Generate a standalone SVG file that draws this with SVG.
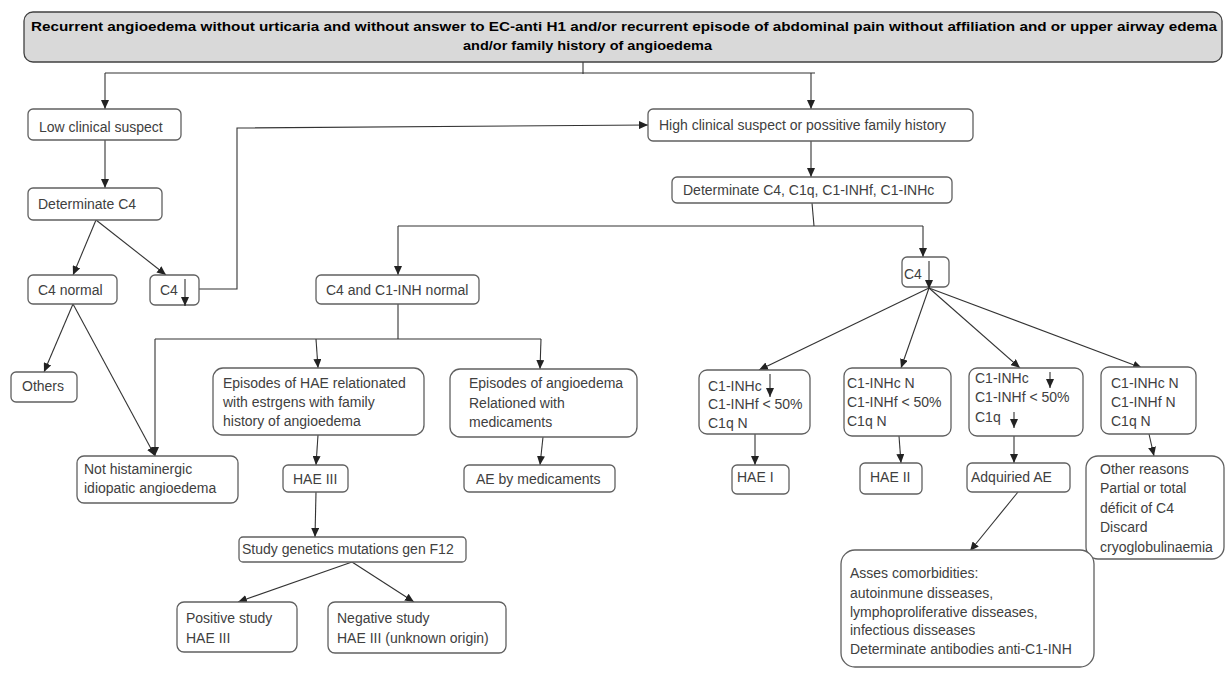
<svg xmlns="http://www.w3.org/2000/svg" width="1225" height="682" viewBox="0 0 1225 682">
<style>
.box{fill:#fff;stroke:#606060;stroke-width:1.3}
.hdr{fill:#d9d9d9;stroke:#404040;stroke-width:1.3}
.t{font-family:"Liberation Sans",Arial,sans-serif;font-size:14px;fill:#404040}
.h{font-family:"Liberation Sans",Arial,sans-serif;font-size:13px;font-weight:bold;fill:#000}
.c{stroke:#333;stroke-width:1.1;fill:none}
</style>
<defs>
<marker id="a" markerUnits="userSpaceOnUse" markerWidth="9" markerHeight="8" refX="9" refY="4" orient="auto">
<path d="M0,0 L9,4 L0,8 z" fill="#222"/>
</marker>
</defs>
<rect width="1225" height="682" fill="#fff"/>

<g id="connectors">
<polyline class="c" points="583,62 583,74"/>
<polyline class="c" points="105,73 815,73"/>
<line class="c" x1="105" y1="73" x2="105" y2="109" marker-end="url(#a)"/>
<line class="c" x1="811" y1="73" x2="811" y2="109" marker-end="url(#a)"/>
<line class="c" x1="105" y1="140" x2="105" y2="188" marker-end="url(#a)"/>
<line class="c" x1="96" y1="220" x2="73" y2="275" marker-end="url(#a)"/>
<line class="c" x1="96" y1="220" x2="166" y2="275" marker-end="url(#a)"/>
<polyline class="c" points="199,289 237,289 237,128 648,125" marker-end="url(#a)"/>
<line class="c" x1="811" y1="141" x2="811" y2="177" marker-end="url(#a)"/>
<polyline class="c" points="812,203 814,226"/>
<polyline class="c" points="398,226 923,226"/>
<line class="c" x1="398" y1="226" x2="398" y2="275" marker-end="url(#a)"/>
<line class="c" x1="923" y1="226" x2="923" y2="257" marker-end="url(#a)"/>
<line class="c" x1="73" y1="304" x2="44" y2="372" marker-end="url(#a)"/>
<line class="c" x1="73" y1="304" x2="155" y2="456" marker-end="url(#a)"/>
<polyline class="c" points="398,304 398,339"/>
<polyline class="c" points="155,339 541,339"/>
<line class="c" x1="155" y1="339" x2="155" y2="456" marker-end="url(#a)"/>
<line class="c" x1="316" y1="339" x2="318" y2="368" marker-end="url(#a)"/>
<line class="c" x1="541" y1="339" x2="540" y2="369" marker-end="url(#a)"/>
<line class="c" x1="318" y1="435" x2="316" y2="465" marker-end="url(#a)"/>
<line class="c" x1="543" y1="437" x2="540" y2="465" marker-end="url(#a)"/>
<line class="c" x1="316" y1="492" x2="315" y2="537" marker-end="url(#a)"/>
<line class="c" x1="352" y1="562" x2="238" y2="602" marker-end="url(#a)"/>
<line class="c" x1="352" y1="562" x2="414" y2="602" marker-end="url(#a)"/>
<line class="c" x1="929" y1="288" x2="759" y2="370" marker-end="url(#a)"/>
<line class="c" x1="929" y1="288" x2="901" y2="368" marker-end="url(#a)"/>
<line class="c" x1="929" y1="288" x2="1020" y2="368" marker-end="url(#a)"/>
<line class="c" x1="929" y1="288" x2="1142" y2="368" marker-end="url(#a)"/>
<line class="c" x1="755" y1="434" x2="755" y2="465" marker-end="url(#a)"/>
<line class="c" x1="899" y1="436" x2="901" y2="463" marker-end="url(#a)"/>
<line class="c" x1="1014" y1="436" x2="1014" y2="463" marker-end="url(#a)"/>
<line class="c" x1="1149" y1="434" x2="1154" y2="456" marker-end="url(#a)"/>
<line class="c" x1="1018" y1="492" x2="970" y2="551" marker-end="url(#a)"/>
</g>

<g id="header">
<rect class="hdr" x="24" y="12" width="1198" height="50" rx="9"/>
<text class="h" x="624" y="31" text-anchor="middle" textLength="1186" lengthAdjust="spacingAndGlyphs">Recurrent angioedema without urticaria and without answer to EC-anti H1 and/or recurrent episode of abdominal pain without affiliation and or upper airway edema</text>
<text class="h" x="463" y="50" textLength="249" lengthAdjust="spacingAndGlyphs">and/or family history of angioedema</text>
</g>

<g id="low">
<rect class="box" x="28" y="109" width="153" height="31" rx="5"/>
<text class="t" x="39" y="132">Low clinical suspect</text>
</g>
<g id="detC4">
<rect class="box" x="28" y="188" width="134" height="32" rx="5"/>
<text class="t" x="38" y="209">Determinate C4</text>
</g>
<g id="c4normal">
<rect class="box" x="28" y="275" width="89" height="29" rx="5"/>
<text class="t" x="38" y="295">C4 normal</text>
</g>
<g id="c4low">
<rect class="box" x="150" y="275" width="49" height="30" rx="5"/>
<text class="t" x="160" y="295">C4</text>
<line class="c" x1="185" y1="279" x2="185" y2="306" marker-end="url(#a)"/>
</g>
<g id="others">
<rect class="box" x="11" y="372" width="66" height="30" rx="5"/>
<text class="t" x="22" y="391">Others</text>
</g>
<g id="nothist">
<rect class="box" x="77" y="456" width="161" height="47" rx="7"/>
<text class="t" x="84" y="474">Not histaminergic</text>
<text class="t" x="84" y="493">idiopatic angioedema</text>
</g>
<g id="high">
<rect class="box" x="648" y="109" width="325" height="32" rx="5"/>
<text class="t" x="659" y="130">High clinical suspect or possitive family history</text>
</g>
<g id="det2">
<rect class="box" x="672" y="177" width="280" height="26" rx="5"/>
<text class="t" x="683" y="195">Determinate C4, C1q, C1-INHf, C1-INHc</text>
</g>
<g id="c4c1normal">
<rect class="box" x="316" y="275" width="163" height="29" rx="5"/>
<text class="t" x="326" y="295">C4 and C1-INH normal</text>
</g>
<g id="c4low2">
<rect class="box" x="902" y="257" width="47" height="30" rx="5"/>
<text class="t" x="904" y="279">C4</text>
<line class="c" x1="929" y1="261" x2="929" y2="289" marker-end="url(#a)"/>
</g>
<g id="epiHAE">
<rect class="box" x="213" y="368" width="211" height="67" rx="10"/>
<text class="t" x="223" y="388">Episodes of HAE relationated</text>
<text class="t" x="223" y="407">with estrgens with family</text>
<text class="t" x="223" y="426">history of angioedema</text>
</g>
<g id="epiAE">
<rect class="box" x="450" y="369" width="187" height="68" rx="10"/>
<text class="t" x="469" y="388">Episodes of angioedema</text>
<text class="t" x="469" y="408">Relationed with</text>
<text class="t" x="469" y="427">medicaments</text>
</g>
<g id="hae3">
<rect class="box" x="283" y="465" width="65" height="27" rx="5"/>
<text class="t" x="293" y="484">HAE III</text>
</g>
<g id="aemed">
<rect class="box" x="464" y="465" width="151" height="27" rx="5"/>
<text class="t" x="476" y="484">AE by medicaments</text>
</g>
<g id="study">
<rect class="box" x="239" y="537" width="227" height="25" rx="4"/>
<text class="t" x="242" y="554">Study genetics mutations gen F12</text>
</g>
<g id="positive">
<rect class="box" x="177" y="602" width="120" height="50" rx="7"/>
<text class="t" x="186" y="623">Positive study</text>
<text class="t" x="186" y="643">HAE III</text>
</g>
<g id="negative">
<rect class="box" x="328" y="602" width="178" height="51" rx="7"/>
<text class="t" x="337" y="623">Negative study</text>
<text class="t" x="337" y="643">HAE III (unknown  origin)</text>
</g>
<g id="box1">
<rect class="box" x="699" y="370" width="111" height="64" rx="8"/>
<text class="t" x="708" y="391">C1-INHc</text>
<line class="c" x1="770" y1="374" x2="770" y2="397" marker-end="url(#a)"/>
<text class="t" x="708" y="409">C1-INHf &lt; 50%</text>
<text class="t" x="708" y="428">C1q N</text>
</g>
<g id="box2">
<rect class="box" x="844" y="368" width="107" height="68" rx="8"/>
<text class="t" x="847" y="388">C1-INHc N</text>
<text class="t" x="847" y="407">C1-INHf &lt; 50%</text>
<text class="t" x="847" y="426">C1q N</text>
</g>
<g id="box3">
<rect class="box" x="969" y="368" width="114" height="68" rx="8"/>
<text class="t" x="975" y="383">C1-INHc</text>
<line class="c" x1="1050" y1="372" x2="1050" y2="388" marker-end="url(#a)"/>
<text class="t" x="975" y="402">C1-INHf &lt; 50%</text>
<text class="t" x="975" y="422">C1q</text>
<line class="c" x1="1014" y1="412" x2="1014" y2="428" marker-end="url(#a)"/>
</g>
<g id="box4">
<rect class="box" x="1101" y="367" width="95" height="67" rx="8"/>
<text class="t" x="1111" y="388">C1-INHc N</text>
<text class="t" x="1111" y="407">C1-INHf N</text>
<text class="t" x="1111" y="426">C1q N</text>
</g>
<g id="hae1">
<rect class="box" x="732" y="465" width="57" height="29" rx="5"/>
<text class="t" x="737" y="482">HAE I</text>
</g>
<g id="hae2">
<rect class="box" x="860" y="463" width="62" height="31" rx="5"/>
<text class="t" x="870" y="482">HAE II</text>
</g>
<g id="acquired">
<rect class="box" x="967" y="463" width="103" height="29" rx="5"/>
<text class="t" x="971" y="482">Adquiried  AE</text>
</g>
<g id="other">
<rect class="box" x="1086" y="456" width="138" height="103" rx="12"/>
<text class="t" x="1100" y="474">Other reasons</text>
<text class="t" x="1100" y="493">Partial or total</text>
<text class="t" x="1100" y="513">déficit of C4</text>
<text class="t" x="1100" y="532">Discard</text>
<text class="t" x="1100" y="552">cryoglobulinaemia</text>
</g>
<g id="asses">
<rect class="box" x="841" y="550" width="253" height="117" rx="14"/>
<text class="t" x="850" y="578">Asses comorbidities:</text>
<text class="t" x="850" y="598">autoinmune  disseases,</text>
<text class="t" x="850" y="617">lymphoproliferative  disseases,</text>
<text class="t" x="850" y="635"> infectious disseases</text>
<text class="t" x="850" y="654">Determinate  antibodies anti-C1-INH</text>
</g>
</svg>
